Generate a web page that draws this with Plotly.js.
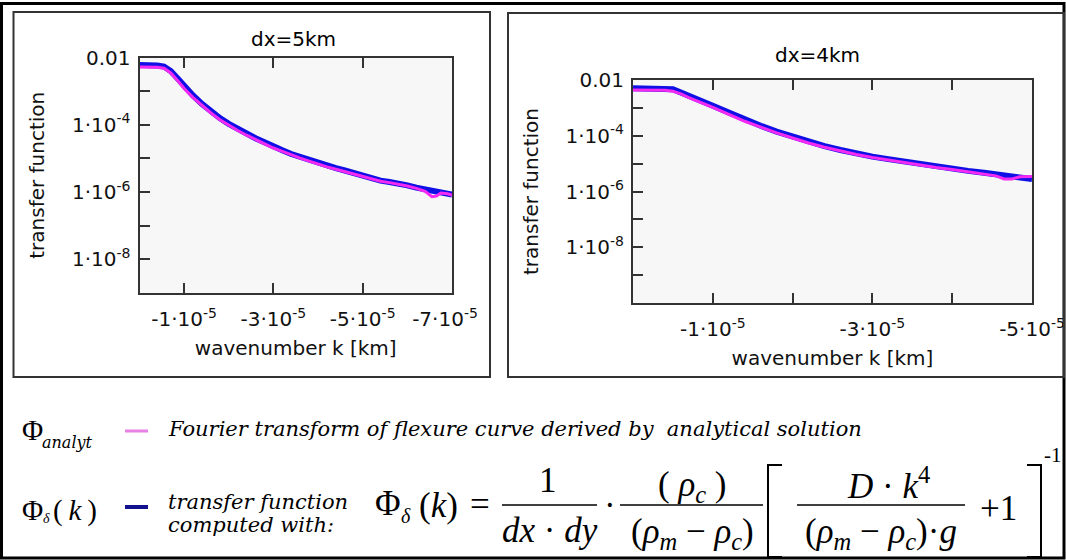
<!DOCTYPE html>
<html><head><meta charset="utf-8">
<script src="https://cdn.plot.ly/plotly-3.0.1.min.js"></script>
<style>html,body{margin:0;padding:0;background:#fff;} #chart{width:1066px;height:560px;}</style>
</head><body><div id="chart"></div>
<script>
// ---------- data: dx = 5 km ----------
const k5 = [0, -0.2e-5, -0.4e-5, -0.55e-5, -0.7e-5, -0.85e-5, -1.0e-5, -1.2e-5, -1.4e-5, -1.6e-5, -1.8e-5, -2.0e-5, -2.2e-5, -2.4e-5, -2.6e-5, -2.8e-5, -3.0e-5, -3.2e-5, -3.4e-5, -3.6e-5, -3.8e-5, -4.0e-5, -4.2e-5, -4.4e-5, -4.6e-5, -4.8e-5, -5.0e-5, -5.2e-5, -5.4e-5, -5.6e-5, -5.8e-5, -6.0e-5, -6.2e-5, -6.4e-5, -6.6e-5, -6.8e-5, -7.0e-5];
const phiDelta5 = [6.03e-3, 6.03e-3, 5.75e-3, 5.37e-3, 3.98e-3, 2.40e-3, 1.38e-3, 7.41e-4, 4.17e-4, 2.51e-4, 1.58e-4, 1.07e-4, 7.41e-5, 5.37e-5, 3.98e-5, 3.02e-5, 2.19e-5, 1.74e-5, 1.35e-5, 1.10e-5, 8.91e-6, 7.24e-6, 6.03e-6, 5.13e-6, 4.37e-6, 3.63e-6, 3.09e-6, 2.63e-6, 2.19e-6, 2.00e-6, 1.82e-6, 1.58e-6, 1.35e-6, 1.20e-6, 1.05e-6, 9.55e-7, 8.51e-7];
const kA5 = [0, -0.2e-5, -0.4e-5, -0.55e-5, -0.7e-5, -0.85e-5, -1.0e-5, -1.2e-5, -1.4e-5, -1.6e-5, -1.8e-5, -2.0e-5, -2.2e-5, -2.4e-5, -2.6e-5, -2.8e-5, -3.0e-5, -3.2e-5, -3.4e-5, -3.6e-5, -3.8e-5, -4.0e-5, -4.2e-5, -4.4e-5, -4.6e-5, -4.8e-5, -5.0e-5, -5.2e-5, -5.4e-5, -5.6e-5, -5.8e-5, -6.0e-5, -6.2e-5, -6.4e-5, -6.55e-5, -6.65e-5, -6.75e-5, -6.9e-5, -7.0e-5];
const phiAnalyt5 = [5.25e-3, 5.25e-3, 5.13e-3, 4.79e-3, 3.47e-3, 2.09e-3, 1.20e-3, 6.46e-4, 3.72e-4, 2.24e-4, 1.41e-4, 9.55e-5, 6.76e-5, 4.90e-5, 3.63e-5, 2.75e-5, 2.04e-5, 1.62e-5, 1.26e-5, 1.02e-5, 8.32e-6, 6.76e-6, 5.62e-6, 4.79e-6, 4.07e-6, 3.47e-6, 2.95e-6, 2.51e-6, 2.09e-6, 1.91e-6, 1.74e-6, 1.51e-6, 1.29e-6, 1.05e-6, 7.24e-7, 7.59e-7, 9.33e-7, 8.91e-7, 8.13e-7];

// ---------- data: dx = 4 km ----------
const k4 = [0, -0.2e-5, -0.4e-5, -0.5e-5, -0.6e-5, -0.7e-5, -0.8e-5, -0.9e-5, -1.0e-5, -1.2e-5, -1.4e-5, -1.6e-5, -1.8e-5, -2.0e-5, -2.2e-5, -2.4e-5, -2.6e-5, -2.8e-5, -3.0e-5, -3.2e-5, -3.4e-5, -3.6e-5, -3.8e-5, -4.0e-5, -4.2e-5, -4.4e-5, -4.6e-5, -4.8e-5, -5.0e-5];
const phiDelta4 = [5.01e-3, 5.01e-3, 5.01e-3, 4.68e-3, 3.55e-3, 2.63e-3, 2.09e-3, 1.58e-3, 1.20e-3, 6.76e-4, 3.72e-4, 2.29e-4, 1.41e-4, 9.12e-5, 6.03e-5, 4.27e-5, 3.09e-5, 2.29e-5, 1.78e-5, 1.45e-5, 1.17e-5, 9.33e-6, 7.76e-6, 6.61e-6, 5.50e-6, 4.68e-6, 3.98e-6, 3.39e-6, 2.82e-6];
const kA4 = [0, -0.2e-5, -0.4e-5, -0.5e-5, -0.6e-5, -0.7e-5, -0.8e-5, -0.9e-5, -1.0e-5, -1.2e-5, -1.4e-5, -1.6e-5, -1.8e-5, -2.0e-5, -2.2e-5, -2.4e-5, -2.6e-5, -2.8e-5, -3.0e-5, -3.2e-5, -3.4e-5, -3.6e-5, -3.8e-5, -4.0e-5, -4.2e-5, -4.4e-5, -4.55e-5, -4.65e-5, -4.75e-5, -4.85e-5, -5.0e-5];
const phiAnalyt4 = [4.37e-3, 4.37e-3, 4.27e-3, 3.98e-3, 3.16e-3, 2.34e-3, 1.82e-3, 1.38e-3, 1.05e-3, 5.89e-4, 3.31e-4, 2.04e-4, 1.26e-4, 8.32e-5, 5.50e-5, 3.89e-5, 2.82e-5, 2.14e-5, 1.66e-5, 1.35e-5, 1.10e-5, 8.71e-6, 7.24e-6, 6.17e-6, 5.13e-6, 4.37e-6, 3.63e-6, 2.82e-6, 2.82e-6, 3.39e-6, 3.47e-6];

// ---------- ticks ----------
const xTickVals5 = [-1e-5, -3e-5, -5e-5, -7e-5];
const xTickText5 = ['-1·10<sup>-5</sup>', '-3·10<sup>-5</sup>', '-5·10<sup>-5</sup>', '-7·10<sup>-5</sup>\u2002\u2009'];
const yTickVals5 = [1e-2, 1e-4, 1e-6, 1e-8];
const yTickText5 = ['0.01', '1·10<sup>-4</sup>', '1·10<sup>-6</sup>', '1·10<sup>-8</sup>'];
const yMinorVals5 = [1e-3, 1e-5, 1e-7];
const xTickVals4 = [-1e-5, -3e-5, -5e-5];
const xTickText4 = ['-1·10<sup>-5</sup>', '-3·10<sup>-5</sup>', '-5·10<sup>-5</sup>'];
const xMinorVals4 = [-2e-5, -4e-5];
const yTickVals4 = [1e-2, 1e-4, 1e-6, 1e-8];
const yTickText4 = ['0.01', '1·10<sup>-4</sup>', '1·10<sup>-6</sup>', '1·10<sup>-8</sup>'];
const yMinorVals4 = [1e-3, 1e-5, 1e-7, 1e-9];

const titles = ['dx=5km', 'dx=4km'];
const xTitle = 'wavenumber k [km]';
const yTitle = 'transfer function';
const colDelta = '#1010e6', colAnalyt = '#f22af2';

// ---------- layout helpers ----------
const W = 1066, H = 560;
const px = x => x / W;
const py = y => 1 - y / H;
const SANS = 'DejaVu Sans, Verdana, sans-serif';
const SERIF = 'Liberation Serif, Times New Roman, serif';
const WSERIF = 'DejaVu Serif, serif';
const AX = '#333';

function minorOf(vals) {
  return {tickmode: 'array', tickvals: vals, ticks: 'inside', ticklen: 10, tickwidth: 2, tickcolor: AX, showgrid: false};
}
function xAxis(dom, range, tv, tt, minor, anchor) {
  const a = {domain: dom, anchor: anchor, range: range, tickmode: 'array', tickvals: tv, ticktext: tt,
    ticks: 'inside', ticklen: 10, tickwidth: 2, tickcolor: AX, showline: true, linecolor: AX, linewidth: 2,
    mirror: 'allticks', showgrid: false, zeroline: false, ticklabelstandoff: 7,
    tickfont: {family: SANS, size: 20, color: '#111'},
    title: {text: xTitle, font: {family: SANS, size: 20, color: '#111'}, standoff: 11}};
  if (minor) a.minor = minorOf(minor);
  return a;
}
function yAxis(dom, range, tv, tt, minor, anchor) {
  const a = {domain: dom, anchor: anchor, type: 'log', range: range, tickmode: 'array', tickvals: tv, ticktext: tt,
    ticks: 'inside', ticklen: 10, tickwidth: 2, tickcolor: AX, showline: true, linecolor: AX, linewidth: 2,
    mirror: true, showgrid: false, zeroline: false, ticklabelstandoff: 3,
    tickfont: {family: SANS, size: 20, color: '#111'},
    title: {text: yTitle, font: {family: SANS, size: 20, color: '#111'}, standoff: 22}};
  if (minor) a.minor = minorOf(minor);
  return a;
}

const traces = [
  {x: k5, y: phiDelta5, xaxis: 'x', yaxis: 'y', mode: 'lines', line: {color: colDelta, width: 6}, showlegend: false, hoverinfo: 'skip'},
  {x: kA5, y: phiAnalyt5, xaxis: 'x', yaxis: 'y', mode: 'lines', line: {color: colAnalyt, width: 3}, showlegend: false, hoverinfo: 'skip'},
  {x: k4, y: phiDelta4, xaxis: 'x2', yaxis: 'y2', mode: 'lines', line: {color: colDelta, width: 6}, showlegend: false, hoverinfo: 'skip'},
  {x: kA4, y: phiAnalyt4, xaxis: 'x2', yaxis: 'y2', mode: 'lines', line: {color: colAnalyt, width: 3}, showlegend: false, hoverinfo: 'skip'}
];

function ann(text, x, y, size, opt) {
  opt = opt || {};
  return {text: text, x: px(x), y: py(y), xref: 'paper', yref: 'paper', showarrow: false,
    xanchor: opt.xa || 'left', yanchor: opt.ya || 'middle',
    font: {family: opt.family || SERIF, size: size, color: '#000'}};
}
function hline(x0, x1, y, color, width) {
  return {type: 'line', xref: 'paper', yref: 'paper', x0: px(x0), x1: px(x1), y0: py(y), y1: py(y), line: {color: color, width: width}};
}
function rect(x0, y0, x1, y1, color, width) {
  return {type: 'rect', xref: 'paper', yref: 'paper', x0: px(x0), x1: px(x1), y0: py(y1), y1: py(y0), line: {color: color, width: width}, fillcolor: 'rgba(0,0,0,0)'};
}
function pathShape(pts, width) {
  const d = pts.map((p, i) => (i ? 'L' : 'M') + px(p[0]) + ',' + py(p[1])).join(' ');
  return {type: 'path', xref: 'paper', yref: 'paper', path: d, line: {color: '#000', width: width}};
}

const annotations = [
  ann(titles[0], 293, 39, 20, {xa: 'center', family: SANS}),
  ann(titles[1], 817, 55, 20, {xa: 'center', family: SANS}),
  // legend row 1
  ann('Φ', 20, 430, 29),
  ann('<i>analyt</i>', 40, 442, 16, {family: WSERIF}),
  ann('<i>Fourier transform of flexure curve derived by \u00a0analytical solution</i>', 166, 429, 21, {family: WSERIF}),
  // legend row 2
  ann('Φ', 20, 510, 29),
  ann('<i>δ</i>', 41, 518, 14),
  ann('(\u2009<i>k</i>\u2009)', 51, 510, 29),
  ann('<i>transfer function</i>', 166, 502, 21, {family: WSERIF}),
  ann('<i>computed with:</i>', 166, 525, 21, {family: WSERIF}),
  // formula
  ann('Φ', 373, 503, 35),
  ann('<i>δ</i>', 399, 516, 20),
  ann('(<i>k</i>)', 438, 505, 35, {xa: 'center'}),
  ann('=', 480, 504, 35, {xa: 'center'}),
  ann('1', 548, 481, 35, {xa: 'center'}),
  ann('<i>dx</i> · <i>dy</i>', 550, 530, 35, {xa: 'center'}),
  ann('·', 610, 505, 35, {xa: 'center'}),
  ann('( <i>ρ</i><sub><i>c</i></sub> )', 692, 486, 35, {xa: 'center'}),
  ann('(<i>ρ</i><sub><i>m</i></sub> − <i>ρ</i><sub><i>c</i></sub>)', 692, 533, 35, {xa: 'center'}),
  ann('<i>D</i> · <i>k</i><sup>4</sup>', 888, 483, 35, {xa: 'center'}),
  ann('(<i>ρ</i><sub><i>m</i></sub> − <i>ρ</i><sub><i>c</i></sub>)·<i>g</i>', 881, 533, 35, {xa: 'center'}),
  ann('+1', 998, 508, 35, {xa: 'center'}),
  ann('-1', 1053, 455, 21, {xa: 'center'})
];

const shapes = [
  rect(1.5, 3.5, 1064, 558, '#000', 3),
  rect(13.5, 12, 490, 377, AX, 2),
  rect(508, 13, 1064, 377, AX, 2),
  hline(125, 148, 431, '#e67fe6', 3),
  hline(125, 148, 507, '#12128c', 4),
  hline(502, 597, 505, '#000', 1.5),
  hline(620, 763, 505, '#000', 1.5),
  hline(797, 965, 505, '#000', 1.5),
  pathShape([[782, 465], [768, 465], [768, 557], [782, 557]], 2),
  pathShape([[1027, 465], [1041, 465], [1041, 557], [1027, 557]], 2)
];

const layout = {
  width: W, height: H, margin: {l: 0, r: 0, t: 0, b: 0},
  paper_bgcolor: '#fff', plot_bgcolor: '#f7f7f7', showlegend: false,
  xaxis: xAxis([px(139.5), px(452)], [0, -7e-5], xTickVals5, xTickText5, null, 'y'),
  yaxis: yAxis([py(293), py(57.5)], [-9, -2], yTickVals5, yTickText5, yMinorVals5, 'x'),
  xaxis2: xAxis([px(633), px(1032)], [0, -5e-5], xTickVals4, xTickText4, xMinorVals4, 'y2'),
  yaxis2: yAxis([py(303), py(80)], [-10, -2], yTickVals4, yTickText4, yMinorVals4, 'x2'),
  annotations: annotations, shapes: shapes
};

Plotly.newPlot('chart', traces, layout, {staticPlot: true, displayModeBar: false});
</script>
</body></html>
